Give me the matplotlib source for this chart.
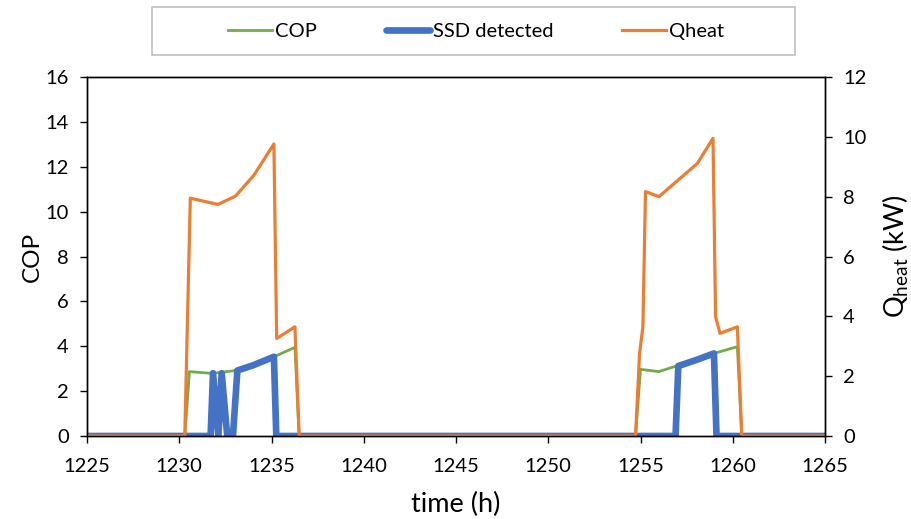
import matplotlib
matplotlib.use("Agg")
import matplotlib.pyplot as plt
from matplotlib.patches import Rectangle
from matplotlib.lines import Line2D

plt.rcParams['font.family'] = ['Lato', 'DejaVu Sans']
plt.rcParams['mathtext.default'] = 'regular'

# ---- data ----
t_cop = [1225, 1230.3, 1230.55, 1231.8, 1232.97, 1234.0, 1235.13, 1236.27, 1236.5,
         1254.73, 1255.0, 1256.0, 1257.09, 1258.0, 1258.98, 1260.25, 1260.49, 1265]
cop = [0, 0, 2.87, 2.79, 2.91, 3.15, 3.53, 3.95, 0,
       0, 2.97, 2.87, 3.16, 3.40, 3.68, 3.98, 0, 0]

t_ssd = [1225, 1231.7, 1231.83, 1232.12, 1232.3, 1232.6, 1232.91, 1233.15, 1234.0, 1235.13, 1235.26,
         1256.9, 1257.05, 1258.0, 1258.98, 1259.12, 1265]
ssd = [0, 0, 2.8, 0, 2.8, 0, 0, 2.92, 3.15, 3.53, 0,
       0, 3.12, 3.38, 3.68, 0, 0]

t_q = [1225, 1230.3, 1230.6, 1232.1, 1233.05, 1234.05, 1235.13, 1235.28, 1236.27, 1236.5,
       1254.73, 1254.95, 1255.13, 1255.27, 1256.0, 1258.08, 1258.93, 1259.07, 1259.31, 1260.25, 1260.49, 1265]
qheat = [0, 0, 7.95, 7.74, 8.02, 8.72, 9.76, 3.26, 3.65, 0,
         0, 2.76, 3.65, 8.17, 8.0, 9.11, 9.95, 3.99, 3.43, 3.65, 0, 0]

x_ticks = [1225, 1230, 1235, 1240, 1245, 1250, 1255, 1260, 1265]
cop_ticks = [0, 2, 4, 6, 8, 10, 12, 14, 16]
q_ticks = [0, 2, 4, 6, 8, 10, 12]

c_green = '#70AD47'
c_blue = '#4472C4'
c_orange = '#ED7D31'

fig = plt.figure(figsize=(9.12, 5.19), dpi=100)
ax = fig.add_axes([87/912, 1-436/519, (825-87)/912, (436-77)/519])
ax2 = ax.twinx()

ax.plot(t_cop, cop, color=c_green, lw=2.0, solid_joinstyle='round')
ax.plot(t_ssd, ssd, color=c_blue, lw=4.8, solid_joinstyle='round')
ax2.plot(t_q, qheat, color=c_orange, lw=2.3, solid_joinstyle='round')

ax.set_xlim(1225, 1265)
ax.set_ylim(0, 16)
ax2.set_ylim(0, 12)
ax.set_xticks(x_ticks)
ax.set_yticks(cop_ticks)
ax2.set_yticks(q_ticks)

for a in (ax, ax2):
    a.tick_params(labelsize=14.5, length=5, width=1, direction='out', colors='black', pad=8)
    for s in a.spines.values():
        s.set_color('black')
        s.set_linewidth(1)
ax.tick_params(axis='x', pad=11)

ax.set_xlabel('time (h)', fontsize=19.5, labelpad=12)
ax.set_ylabel('COP', fontsize=17.5, labelpad=2)
ax2.set_ylabel('Q$_{heat}$ (kW)', fontsize=19.5, labelpad=10)

# legend
fig.patches.append(Rectangle((152/912, 1-55/519), (795-152)/912, 48/519,
                             transform=fig.transFigure, fill=False,
                             edgecolor='#BFBFBF', lw=1.2))
handles = [Line2D([], [], color=c_green, lw=2.0),
           Line2D([], [], color=c_blue, lw=4.8, solid_capstyle='round'),
           Line2D([], [], color=c_orange, lw=2.3)]
fig.legend(handles, ['COP', 'SSD detected', 'Qheat'], loc='center',
           bbox_to_anchor=(476/912, 1-31/519), ncol=3, frameon=False,
           fontsize=14.5, handlelength=2.2, handletextpad=0.15, columnspacing=3.4)

fig.savefig('out.png', dpi=100)
